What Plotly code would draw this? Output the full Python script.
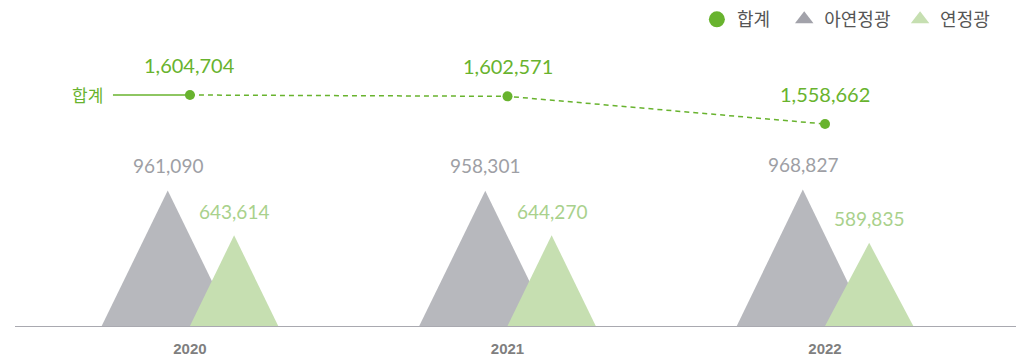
import plotly.graph_objects as go

# data
years      = ["2020", "2021", "2022"]
zinc_conc  = [961090, 958301, 968827]      # 아연정광
lead_conc  = [643614, 644270, 589835]      # 연정광
totals     = [1604704, 1602571, 1558662]   # 합계

GREEN      = "#68b32e"
GRAY_FILL  = "#b7b8bd"
LGRN_FILL  = "#c6dfb1"
GRAY_TXT   = "#9e9fa5"
LGRN_TXT   = "#a9d18c"
FONT       = "Lato, 'Noto Sans CJK KR', sans-serif"
NB         = "\u00a0"   # widen legend entries a little

idx = list(range(len(years)))

# triangle geometry in category units (1 unit = spacing between years)
zinc_off, zinc_hw = -0.07, 0.208
lead_off, lead_hw = 0.139, 0.139

fig = go.Figure()

for i, v in zip(idx, zinc_conc):
    c = i + zinc_off
    fig.add_trace(go.Scatter(
        x=[c - zinc_hw, c, c + zinc_hw, c - zinc_hw], y=[0, v, 0, 0],
        mode="lines", fill="toself", fillcolor=GRAY_FILL, line=dict(width=0),
        showlegend=False, hoverinfo="skip",
    ))
for i, v in zip(idx, lead_conc):
    c = i + lead_off
    fig.add_trace(go.Scatter(
        x=[c - lead_hw, c, c + lead_hw, c - lead_hw], y=[0, v, 0, 0],
        mode="lines", fill="toself", fillcolor=LGRN_FILL, line=dict(width=0),
        showlegend=False, hoverinfo="skip",
    ))

# 합계 line (secondary axis)
fig.add_trace(go.Scatter(
    x=[idx[0] - 0.2425, idx[0]], y=[totals[0], totals[0]], yaxis="y2",
    mode="lines", line=dict(color=GREEN, width=1.3),
    showlegend=False, hoverinfo="skip",
))
fig.add_trace(go.Scatter(
    x=idx, y=totals, yaxis="y2", mode="lines+markers",
    line=dict(color=GREEN, width=1.5, dash="5px,4px"),
    marker=dict(color=GREEN, size=10),
    showlegend=False,
))

# legend-only entries
fig.add_trace(go.Scatter(x=[None], y=[None], mode="markers", name="합계" + NB * 2,
                         marker=dict(symbol="circle", color=GREEN, size=16)))
fig.add_trace(go.Scatter(x=[None], y=[None], mode="markers", name="아연정광" + NB,
                         marker=dict(symbol="triangle-up", color="#a2a2aa", size=16)))
fig.add_trace(go.Scatter(x=[None], y=[None], mode="markers", name="연정광",
                         marker=dict(symbol="triangle-up", color=LGRN_FILL, size=16)))

# value labels
for i, v in zip(idx, zinc_conc):
    fig.add_annotation(x=i + zinc_off, y=v, text=f"{v:,}", showarrow=False,
                       yshift=25, font=dict(size=19, color=GRAY_TXT, family=FONT))
for i, v in zip(idx, lead_conc):
    fig.add_annotation(x=i + lead_off, y=v, text=f"{v:,}", showarrow=False,
                       yshift=24, font=dict(size=19, color=LGRN_TXT, family=FONT))
for i, v in zip(idx, totals):
    fig.add_annotation(x=i, y=v, yref="y2", text=f"{v:,}", showarrow=False,
                       yshift=30, font=dict(size=20, color=GREEN, family=FONT))
fig.add_annotation(x=idx[0] - 0.2425, y=totals[0], yref="y2", text="합계",
                   showarrow=False, xanchor="right", xshift=-8,
                   font=dict(size=17, color=GREEN, family=FONT))

fig.update_xaxes(
    range=[-0.551, 2.614], tickvals=idx, ticktext=years,
    showgrid=False, zeroline=False, showline=True, linecolor="#a9a9b0", linewidth=1,
    ticks="", ticklabelstandoff=9, automargin=False,
    tickfont=dict(family="Liberation Sans, Arial, sans-serif", size=15, color="#7f7f7f",
                  weight="bold"),
)
fig.update_yaxes(range=[0, 2241000], visible=False, showgrid=False, zeroline=False)
# page body adds an 8px offset, so the figure is 8px smaller on each side
fig.update_layout(
    yaxis2=dict(range=[1237956, 1739654], overlaying="y", visible=False,
                showgrid=False, zeroline=False),
    width=1016, height=354,
    plot_bgcolor="white", paper_bgcolor="white",
    margin=dict(l=7, r=4, t=2, b=36, autoexpand=False),
    font=dict(family=FONT, size=18, color="#555555"),
    legend=dict(orientation="h", x=0.975, xanchor="right", y=1.028, yanchor="top",
                font=dict(size=18, color="#555555"), bgcolor="rgba(0,0,0,0)"),
    showlegend=True,
)

fig.write_html("out.html")
